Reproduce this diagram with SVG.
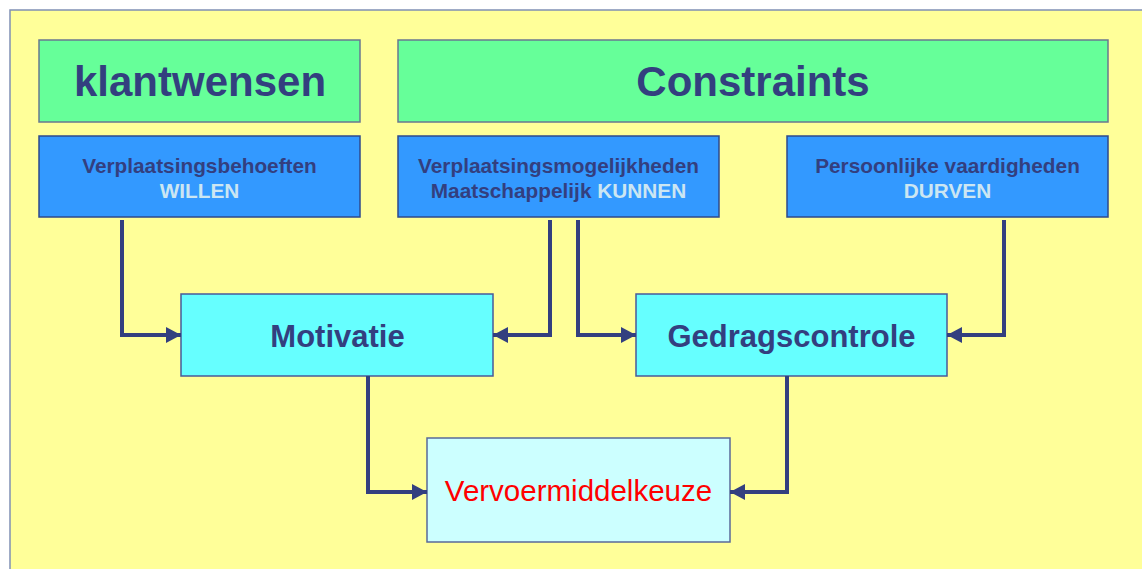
<svg xmlns="http://www.w3.org/2000/svg" width="1142" height="569" viewBox="0 0 1142 569">
  <defs>
    <marker id="arrow" markerUnits="userSpaceOnUse" markerWidth="18" markerHeight="18" refX="15" refY="8" orient="auto">
      <path d="M0,0 L15,8 L0,16 Z" fill="#333F7F"/>
    </marker>
    <style>
      .head { fill: #66FF99; stroke: #6A7890; stroke-width: 1.5; }
      .src { fill: #3399FF; stroke: #2F4A8C; stroke-width: 1.5; }
      .mid { fill: #66FFFF; stroke: #4A5A99; stroke-width: 1.5; }
      .out { fill: #CCFFFF; stroke: #5A6A99; stroke-width: 1.5; }
      text { font-family: "Liberation Sans", Arial, sans-serif; font-weight: bold; text-anchor: middle; fill: #333F7F; }
      .big { font-size: 42px; }
      .small { font-size: 20.8px; }
      .light { fill: #CCE6F2; }
      .mtxt { font-size: 31px; }
      .red { fill: #FF0000; font-weight: normal; font-size: 29.5px; }
      .conn path { fill: none; stroke: #333F7F; stroke-width: 4; marker-end: url(#arrow); }
    </style>
  </defs>

  <!-- page background and panel -->
  <rect x="0" y="0" width="1142" height="569" fill="#FFFFFF"/>
  <rect x="10" y="10" width="1140" height="570" fill="#FFFF99" stroke="#8090B4" stroke-width="1.5"/>

  <!-- header boxes -->
  <g id="klantwensen">
    <rect class="head" x="39" y="40" width="321" height="82"/>
    <text class="big" x="200" y="96">klantwensen</text>
  </g>
  <g id="constraints">
    <rect class="head" x="398" y="40" width="710" height="82"/>
    <text class="big" x="753" y="96">Constraints</text>
  </g>

  <!-- source boxes -->
  <g id="willen">
    <rect class="src" x="39" y="136" width="321" height="81"/>
    <text class="small" x="199.5" y="173">Verplaatsingsbehoeften</text>
    <text class="small light" x="199.5" y="198">WILLEN</text>
  </g>
  <g id="kunnen">
    <rect class="src" x="398" y="136" width="321" height="81"/>
    <text class="small" x="558.5" y="173">Verplaatsingsmogelijkheden</text>
    <text class="small" x="558.5" y="198">Maatschappelijk <tspan class="light">KUNNEN</tspan></text>
  </g>
  <g id="durven">
    <rect class="src" x="787" y="136" width="321" height="81"/>
    <text class="small" x="947.5" y="173">Persoonlijke vaardigheden</text>
    <text class="small light" x="947.5" y="198">DURVEN</text>
  </g>

  <!-- intermediate boxes -->
  <g id="motivatie">
    <rect class="mid" x="181" y="294" width="312" height="82"/>
    <text class="mtxt" x="337.5" y="347">Motivatie</text>
  </g>
  <g id="gedragscontrole">
    <rect class="mid" x="636" y="294" width="311" height="82"/>
    <text class="mtxt" x="791.5" y="347">Gedragscontrole</text>
  </g>

  <!-- outcome box -->
  <g id="vervoermiddelkeuze">
    <rect class="out" x="427" y="438" width="303" height="104"/>
    <text class="red" x="578.5" y="501">Vervoermiddelkeuze</text>
  </g>

  <!-- connectors -->
  <g id="connectors" class="conn">
    <path d="M122,220 V335 H181"/>
    <path d="M550,220 V335 H493"/>
    <path d="M578,220 V335 H636"/>
    <path d="M1004,220 V335 H947"/>
    <path d="M368,376 V492 H427"/>
    <path d="M787,376 V492 H730"/>
  </g>
</svg>
